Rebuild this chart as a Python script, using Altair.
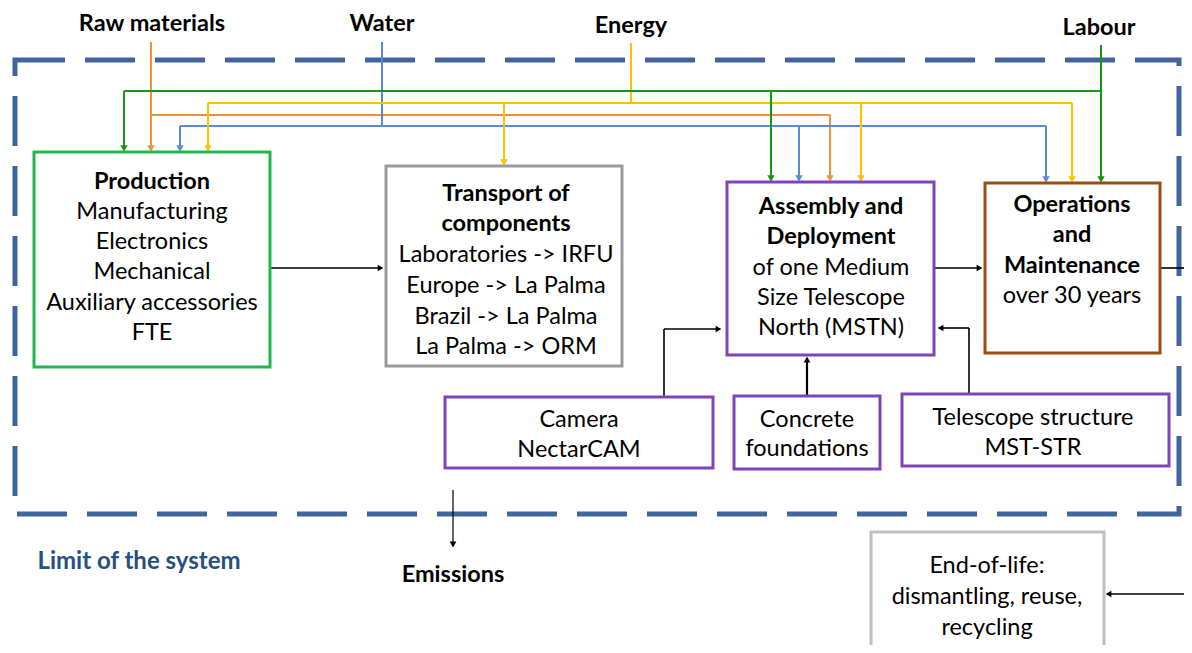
import altair as alt
import pandas as pd

FONT = "Lato"
FS = 23.5

# ---- colours
C_DASH = "#3f64a0"
C_ORANGE = "#f0903e"
C_BLUE = "#5a8ad6"
C_YELLOW = "#ffc000"
C_GREEN = "#189418"
C_BLACK = "#000000"

# ---- boxes
box_names = ["Production", "Transport", "Assembly", "Operations", "Camera",
             "Concrete", "Structure", "EndOfLife"]
box_x1 = [34, 386, 727, 985, 445, 734, 902, 871]
box_x2 = [270, 622, 934, 1160, 713, 880, 1169, 1104]
box_y1 = [152, 166, 182, 183, 397, 396, 394, 532]
box_y2 = [367, 366, 355, 353, 468, 469, 466, 700]
box_colors = ["#1fb850", "#9a9a9a", "#7e44b8", "#9c4d0e", "#7e44b8",
              "#7e44b8", "#7e44b8", "#c0c0c0"]

# ---- flow segments (x1, y1, x2, y2)
seg_x1 = [151, 151, 830,
          382, 180, 180, 799, 1046,
          631, 208, 208, 504, 861, 1072,
          1101, 124, 124, 771,
          270, 934, 1160, 1192, 607, 664, 664, 807, 969, 969, 453]
seg_y1 = [42, 115, 115,
          42, 126, 126, 126, 126,
          43, 103, 103, 103, 103, 103,
          45, 91, 91, 91,
          268, 268, 268, 594, 397, 397, 329, 396, 394, 328, 490]
seg_x2 = [151, 830, 830,
          382, 1046, 180, 799, 1046,
          631, 1072, 208, 504, 861, 1072,
          1101, 1101, 124, 771,
          380, 979, 1192, 1110, 664, 664, 717, 807, 969, 942, 453]
seg_y2 = [146, 115, 176,
          126, 126, 146, 176, 178,
          103, 103, 146, 161, 176, 178,
          178, 91, 146, 176,
          268, 268, 268, 594, 397, 329, 329, 361, 328, 328, 543]
seg_colors = [C_ORANGE] * 3 + [C_BLUE] * 5 + [C_YELLOW] * 6 + [C_GREEN] * 4 + [C_BLACK] * 11
seg_widths = [2] * 18 + [1.6, 1.6, 1.6, 1.4, 1.6, 1.6, 1.6, 2.2, 1.6, 1.6, 1.2]

# ---- arrow heads (tip x, tip y, direction)
head_x = [151, 830, 180, 799, 1046, 208, 504, 861, 1072, 124, 771, 1101,
          384, 983, 1105, 722, 807, 937, 453]
head_y = [152, 182, 152, 182, 183, 152, 166, 182, 183, 152, 182, 183,
          268, 268, 594, 329, 356, 328, 548]
head_dir = ["down"] * 12 + ["right", "right", "left", "right", "up", "left", "down"]
head_colors = [C_ORANGE, C_ORANGE, C_BLUE, C_BLUE, C_BLUE, C_YELLOW, C_YELLOW,
               C_YELLOW, C_YELLOW, C_GREEN, C_GREEN, C_GREEN] + [C_BLACK] * 7

# ---- texts
bold_text = ["Raw materials", "Water", "Energy", "Labour",
             "Production", "Transport of", "components",
             "Assembly and", "Deployment",
             "Operations", "and", "Maintenance",
             "Emissions"]
bold_x = [152, 382, 631, 1099, 152, 506, 506, 831, 831, 1072, 1072, 1072, 453]
bold_y = [24, 24, 26, 28, 182, 194, 224, 207, 237, 205, 235, 266, 575]

limit_text = ["Limit of the system"]
limit_x = [139]
limit_y = [562]

reg_text = ["Manufacturing", "Electronics", "Mechanical", "Auxiliary accessories", "FTE",
            "Laboratories -> IRFU", "Europe -> La Palma", "Brazil -> La Palma", "La Palma -> ORM",
            "of one Medium", "Size Telescope", "North (MSTN)",
            "over 30 years",
            "Camera", "NectarCAM",
            "Concrete", "foundations",
            "Telescope structure", "MST-STR",
            "End-of-life:", "dismantling, reuse,", "recycling"]
reg_x = [152, 152, 152, 152, 152,
         506, 506, 506, 506,
         831, 831, 831,
         1072,
         579, 579,
         807, 807,
         1033, 1033,
         987, 987, 987]
reg_y = [212, 242, 272, 303, 333,
         255, 286, 317, 347,
         268, 298, 328,
         296,
         420, 450,
         420, 449,
         418, 448,
         566, 597, 628]

# ---- build tables
W, H = 1176, 637
xs = alt.Scale(domain=[8, 8 + W])
ys = alt.Scale(domain=[8, 8 + H], reverse=True)
X = lambda f: alt.X(f, type="quantitative", scale=xs, axis=None)
Y = lambda f: alt.Y(f, type="quantitative", scale=ys, axis=None)

boxes = pd.DataFrame({"name": box_names, "x1": box_x1, "x2": box_x2,
                      "y1": box_y1, "y2": box_y2, "c": box_colors})
segs = pd.DataFrame({"x1": seg_x1, "y1": seg_y1, "x2": seg_x2, "y2": seg_y2,
                     "c": seg_colors, "w": seg_widths})

shape_map = {"down": "triangle-down", "up": "triangle-up",
             "left": "triangle-left", "right": "triangle-right"}
off = {"down": (0, -3.5), "up": (0, 3.5), "left": (3.5, 0), "right": (-3.5, 0)}
heads = pd.DataFrame({
    "x": [hx + off[d][0] for hx, d in zip(head_x, head_dir)],
    "y": [hy + off[d][1] for hy, d in zip(head_y, head_dir)],
    "shape": [shape_map[d] for d in head_dir],
    "c": head_colors,
    "s": [55 if c != C_BLACK else 45 for c in head_colors],
})
bold_df = pd.DataFrame({"x": bold_x, "y": bold_y, "t": bold_text})
reg_df = pd.DataFrame({"x": reg_x, "y": reg_y, "t": reg_text})
limit_df = pd.DataFrame({"x": limit_x, "y": limit_y, "t": limit_text})
frame_df = pd.DataFrame({"x1": [15], "x2": [1179], "y1": [60], "y2": [514]})

frame = alt.Chart(frame_df).mark_rect(
    fillOpacity=0, stroke=C_DASH, strokeWidth=5, strokeDash=[50, 20]
).encode(x=X("x1"), x2="x2", y=Y("y1"), y2="y2")

box_layer = alt.Chart(boxes).mark_rect(fillOpacity=0, strokeWidth=3).encode(
    x=X("x1"), x2="x2", y=Y("y1"), y2="y2",
    stroke=alt.Stroke("c:N", scale=None))

seg_layer = alt.Chart(segs).mark_rule().encode(
    x=X("x1"), x2="x2", y=Y("y1"), y2="y2",
    color=alt.Color("c:N", scale=None),
    strokeWidth=alt.StrokeWidth("w:Q", scale=None))

head_layer = alt.Chart(heads).mark_point(filled=True, opacity=1).encode(
    x=X("x"), y=Y("y"),
    shape=alt.Shape("shape:N", scale=None),
    color=alt.Color("c:N", scale=None),
    size=alt.Size("s:Q", scale=None))

bold_layer = alt.Chart(bold_df).mark_text(
    font=FONT, fontSize=FS, fontWeight="bold", color="black", baseline="middle"
).encode(x=X("x"), y=Y("y"), text="t:N")

reg_layer = alt.Chart(reg_df).mark_text(
    font=FONT, fontSize=FS, color="black", baseline="middle"
).encode(x=X("x"), y=Y("y"), text="t:N")

limit_layer = alt.Chart(limit_df).mark_text(
    font=FONT, fontSize=24, fontWeight="bold", color="#27507f", baseline="middle"
).encode(x=X("x"), y=Y("y"), text="t:N")

chart = alt.layer(frame, seg_layer, head_layer, box_layer, bold_layer, reg_layer,
                  limit_layer).properties(
    width=W, height=H, padding=0, autosize=alt.AutoSizeParams(type="none")
).configure_view(stroke=None)

chart.save("out.html", embed_options={"renderer": "svg", "actions": False})
